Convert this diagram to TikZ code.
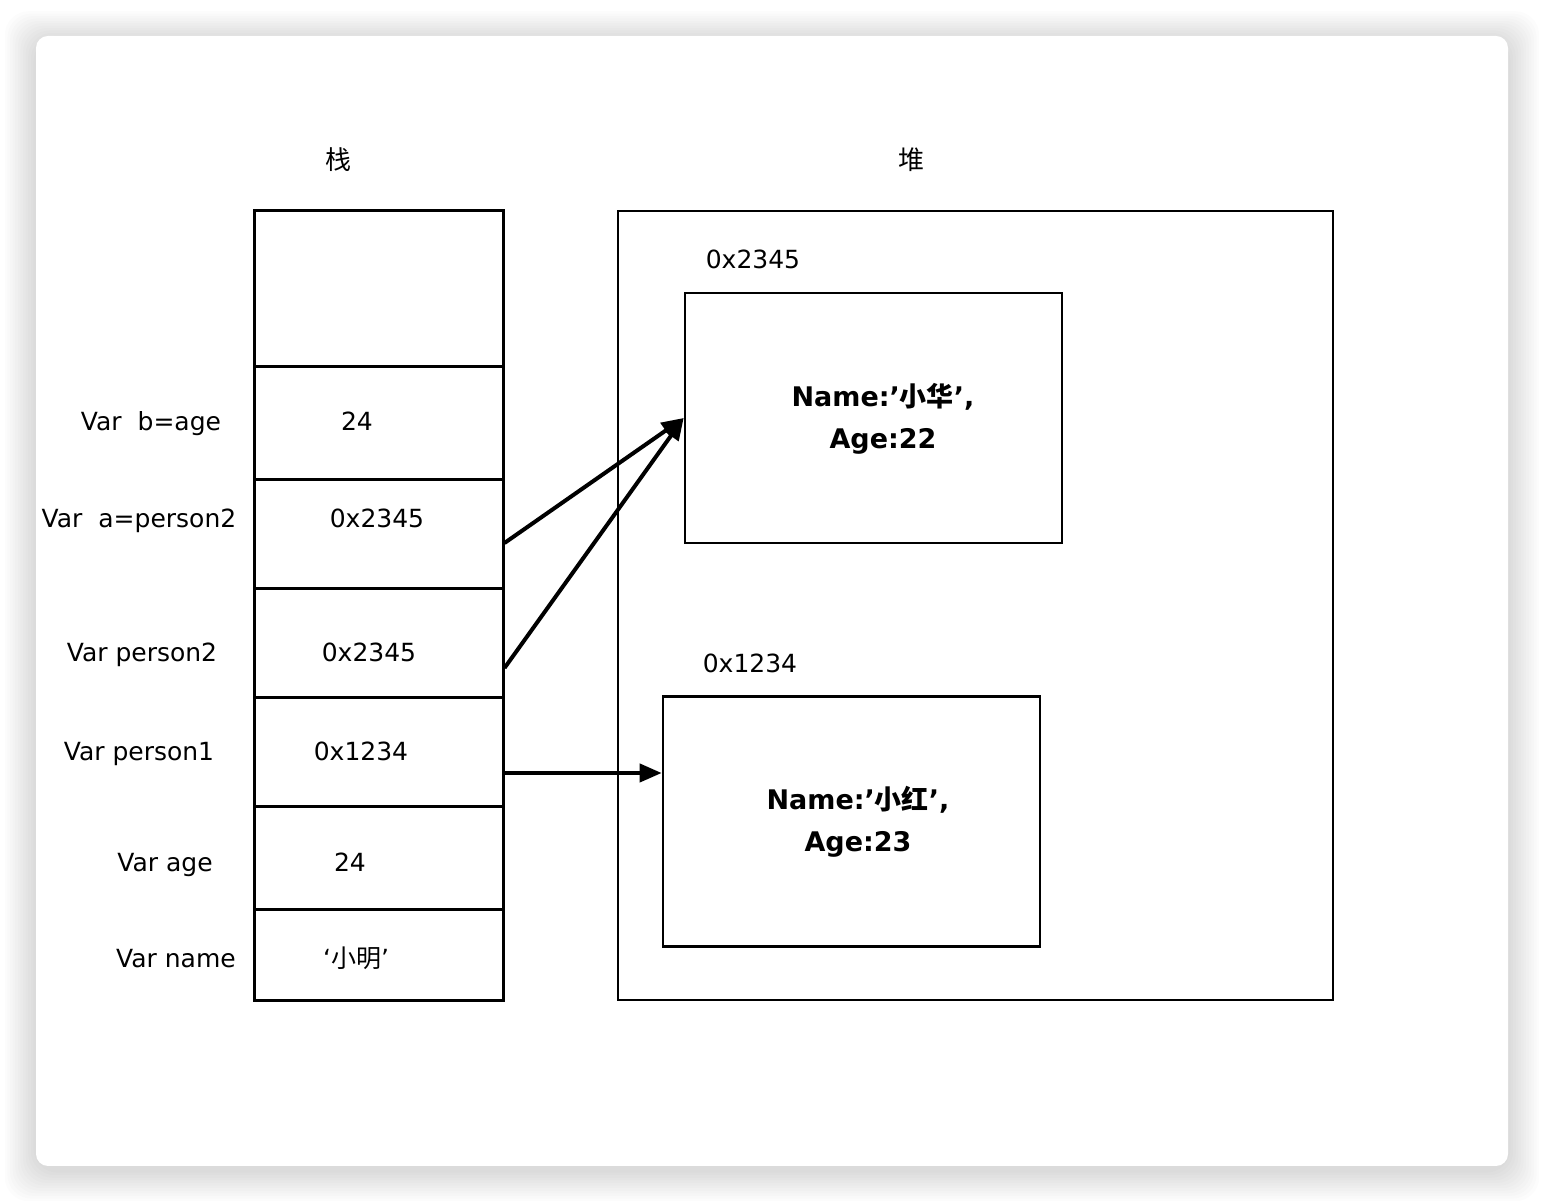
\documentclass[tikz,border=0pt]{standalone}
\usepackage{fontspec}
\setmainfont{DejaVu Sans}
\newfontfamily\cjk{Noto Sans CJK SC}
\usetikzlibrary{arrows.meta}

\tikzset{
  cell/.style={draw, line width=1.5pt, minimum width=124.5pt, inner sep=0pt},
  obj/.style={draw, line width=1.3pt, minimum width=188.5pt, minimum height=125pt, inner sep=0pt},
  txt/.style={font=\fontsize{12.5pt}{15pt}\selectfont, inner sep=0pt, text height=9.1pt, text depth=0pt},
  bold txt/.style={font=\fontsize{13.5pt}{21pt}\selectfont\bfseries, align=center, inner sep=0pt},
  ptr/.style={line width=2pt, -{Triangle[length=11pt,width=9pt]}}
}

\begin{document}
\begin{tikzpicture}[x=0.5pt,y=-0.5pt]
\useasboundingbox (0,0) rectangle (1544,1202);
\fill[white] (0,0) rectangle (1544,1202);
\foreach \i in {1,...,12}
  \fill[black, opacity=0.012, rounded corners=12pt] (36-2.6*\i,36-2.4*\i+4) rectangle (1508+2.6*\i,1166+2.6*\i+4);
\fill[white, rounded corners=6pt] (36,36) rectangle (1508,1166);

\node[txt, font=\fontsize{13pt}{15pt}\selectfont] (stackname) at (338,160) {\cjk 栈};
\node[txt, font=\fontsize{13pt}{15pt}\selectfont] (heapname) at (911,160) {\cjk 堆};

\node[cell, minimum height=78pt] (top) at (378.5,289) {};
\node[cell, minimum height=56.5pt] (ba) at (378.5,423.5) {};
\node[cell, minimum height=54.5pt] (pa) at (378.5,534.5) {};
\node[cell, minimum height=54.5pt] (ptwo) at (378.5,643.5) {};
\node[cell, minimum height=54.5pt] (pone) at (378.5,752.5) {};
\node[cell, minimum height=51.5pt] (age) at (378.5,858.5) {};
\node[cell, minimum height=45.5pt] (name) at (378.5,955.5) {};

\node[txt] at (357,421) {24};
\node[txt] at (377,518) {0x2345};
\node[txt] at (369,652) {0x2345};
\node[txt] at (361,751) {0x1234};
\node[txt] at (350,862) {24};
\node[txt] at (356,958) {‘{\cjk 小明}’};

\node[txt] (bal) at (151,421) {Var\ \ b=age};
\node[txt] (pal) at (139,518) {Var\ \ a=person2};
\node[txt] (ptwol) at (142,652) {Var person2};
\node[txt] (ponel) at (139,751) {Var person1};
\node[txt] (agel) at (165,862) {Var age};
\node[txt] (namel) at (176,958) {Var name};

\node[draw, line width=1.2pt, minimum width=357.5pt, minimum height=394.5pt, inner sep=0pt] (heap) at (975.5,605.5) {};

\node[txt] (addrtwo) at (753,259) {0x2345};
\node[obj] (hua) at (873.5,418) {};
\node[bold txt] at (883,419) {Name:’{\cjk\bfseries 小华}’,\\Age:22};

\node[txt] (addrone) at (750,663) {0x1234};
\node[obj] (hong) at (851.5,821.5) {};
\node[bold txt] at (858,822) {Name:’{\cjk\bfseries 小红}’,\\Age:23};

\draw[ptr] ([yshift=-4.25pt]pa.east) -- (hua.west);
\draw[ptr] ([yshift=-12.25pt]ptwo.east) -- (hua.west);
\draw[ptr] ([yshift=-10.25pt]pone.east) -- ([yshift=24.25pt]hong.west);
\end{tikzpicture}
\end{document}
